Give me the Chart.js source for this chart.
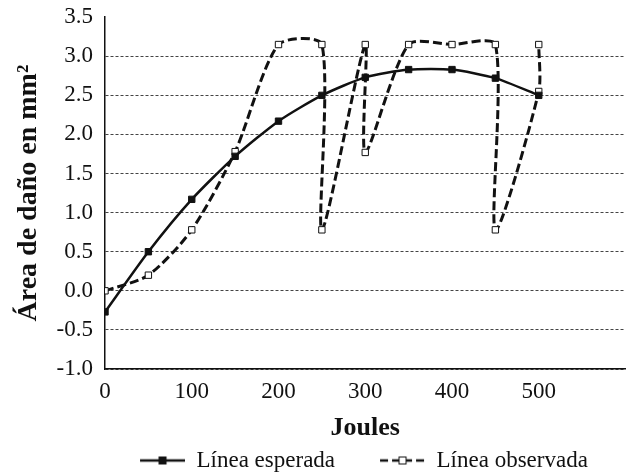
<!DOCTYPE html>
<html>
<head>
<meta charset="utf-8">
<script src="https://cdn.jsdelivr.net/npm/chart.js@4/dist/chart.umd.min.js"></script>
<style>
  html, body { margin: 0; padding: 0; background: #fff; }
  #wrap { width: 631px; height: 473px; position: relative; }
</style>
</head>
<body>
<div id="wrap"><canvas id="c"></canvas></div>
<script>
// ---- data ----
const expectedX = [0, 50, 100, 150, 200, 250, 300, 350, 400, 450, 500];
const expectedY = [-0.27, 0.5, 1.17, 1.72, 2.17, 2.5, 2.73, 2.83, 2.83, 2.72, 2.5];
const observedX = [0, 50, 100, 150, 200, 250, 250, 300, 300, 350, 400, 450, 450, 500, 500];
const observedY = [0, 0.2, 0.78, 1.78, 3.15, 3.15, 0.78, 3.15, 1.77, 3.15, 3.15, 3.15, 0.78, 2.55, 3.15];
const seriesNames = ['Línea esperada', 'Línea observada'];
const xTitle = 'Joules';
const yTitle = 'Área de daño en mm²';
const xTickLabels = ['0', '100', '200', '300', '400', '500'];

const FONT = '"Liberation Serif", "Times New Roman", serif';
const ICON_GAP = 39;

function legendIcon(dashed) {
  const B = ICON_GAP, W = 45;
  const cv = document.createElement('canvas');
  cv.width = B + W; cv.height = 12;
  const g = cv.getContext('2d');
  g.strokeStyle = '#111';
  g.lineWidth = 2.5;
  if (dashed) g.setLineDash([8, 4]);
  g.beginPath(); g.moveTo(B, 6); g.lineTo(B + W, 6); g.stroke();
  g.setLineDash([]);
  const cx = B + W / 2;
  if (dashed) {
    g.fillStyle = '#fff'; g.fillRect(cx - 3.5, 2.5, 7, 7);
    g.lineWidth = 1; g.strokeRect(cx - 3.5, 2.5, 7, 7);
  } else {
    g.fillStyle = '#111'; g.fillRect(cx - 4, 2, 8, 8);
  }
  return cv;
}
const icons = [legendIcon(false), legendIcon(true)];

// shift the legend row a little to the left of the plot area start
const legendShift = {
  id: 'legendShift',
  afterLayout(chart) {
    if (chart.legend) { chart.legend.left -= 10; }
  }
};

new Chart(document.getElementById('c'), {
  type: 'scatter',
  data: {
    datasets: [
      {
        label: seriesNames[0],
        data: expectedX.map((x, i) => ({ x, y: expectedY[i] })),
        showLine: true,
        borderColor: '#111',
        borderWidth: 2.5,
        tension: 0.22,
        pointStyle: 'rect',
        pointRadius: 4.5,
        pointBackgroundColor: '#111',
        pointBorderColor: '#111',
        pointBorderWidth: 1
      },
      {
        label: seriesNames[1],
        data: observedX.map((x, i) => ({ x, y: observedY[i] })),
        showLine: true,
        borderColor: '#111',
        borderWidth: 3,
        borderDash: [9, 4],
        tension: 0.25,
        pointStyle: 'rect',
        pointRadius: 4.5,
        pointBackgroundColor: '#fff',
        pointBorderColor: '#111',
        pointBorderWidth: 1
      }
    ]
  },
  plugins: [legendShift],
  options: {
    responsive: true,
    maintainAspectRatio: false,
    animation: false,
    layout: { padding: { left: 15, right: 0, top: 0, bottom: -9 } },
    plugins: {
      tooltip: { enabled: false },
      legend: {
        position: 'bottom',
        fullSize: false,
        align: 'start',
        labels: {
          usePointStyle: true,
          pointStyleWidth: 45 + ICON_GAP,
          padding: 6,
          color: '#111',
          font: { family: FONT, size: 23 },
          generateLabels: (chart) => chart.data.datasets.map((d, i) => ({
            text: d.label,
            pointStyle: icons[i],
            datasetIndex: i,
            fontColor: '#111',
            lineWidth: 0,
            strokeStyle: 'transparent',
            fillStyle: 'transparent'
          }))
        }
      }
    },
    scales: {
      x: {
        type: 'linear',
        min: 0, max: 600,
        ticks: {
          stepSize: 100,
          color: '#111',
          font: { family: FONT, size: 23, lineHeight: 2.0 },
          padding: 0,
          maxRotation: 0,
          callback: (v) => xTickLabels.includes(String(v)) ? String(v) : ''
        },
        grid: { display: false, drawTicks: false },
        border: { display: true, color: '#111', width: 1.5 },
        title: { display: true, text: xTitle, color: '#111', font: { family: FONT, size: 26, weight: 'bold', lineHeight: 1 }, padding: { top: 0, bottom: 2 } }
      },
      y: {
        min: -1, max: 3.5,
        ticks: {
          stepSize: 0.5,
          color: '#111',
          font: { family: FONT, size: 23, lineHeight: 0.45 },
          padding: 12,
          callback: (v) => Number(v).toFixed(1)
        },
        grid: {
          color: (ctx) => (ctx.tick && ctx.tick.value >= 3.5) ? 'rgba(0,0,0,0)' : '#444',
          lineWidth: 1,
          drawTicks: false
        },
        border: { display: true, color: '#111', width: 1.5, dash: [3, 2] },
        title: { display: true, text: yTitle, color: '#111', font: { family: FONT, size: 28, weight: 'bold', lineHeight: 1 }, padding: { top: 0, bottom: 1.6 } }
      }
    }
  }
});
</script>
</body>
</html>
